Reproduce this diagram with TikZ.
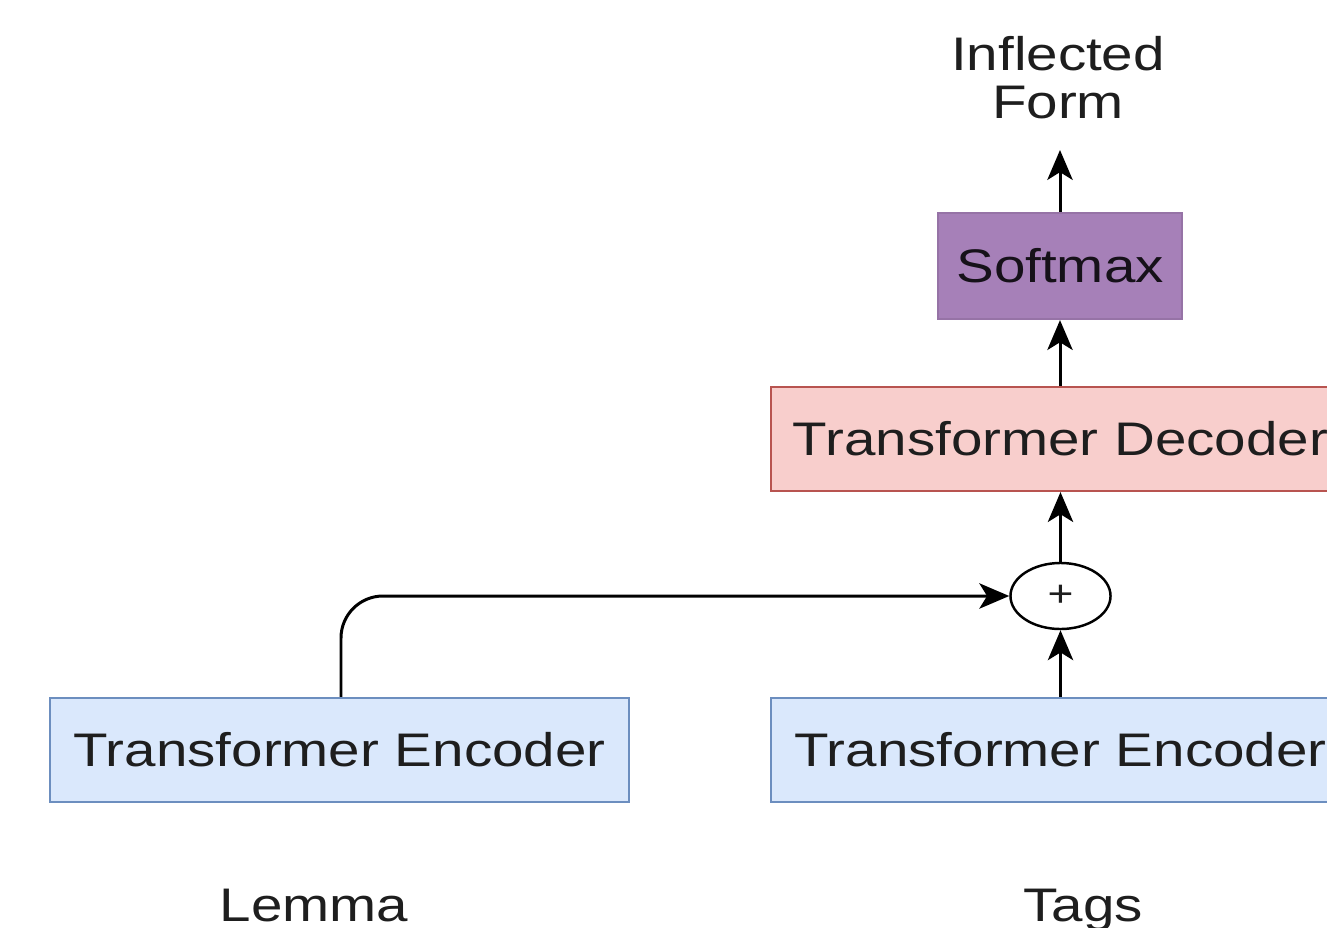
\documentclass[tikz,border=0pt]{standalone}
\usepackage{fontspec}
\setmainfont[FakeStretch=1.2]{Liberation Sans}
\usetikzlibrary{arrows.meta}
\usetikzlibrary{shapes.geometric}
\definecolor{encfill}{HTML}{DAE8FC}
\definecolor{encline}{HTML}{6C8EBF}
\definecolor{decfill}{HTML}{F8CECC}
\definecolor{decline}{HTML}{B85450}
\definecolor{smfill}{HTML}{A680B8}
\definecolor{smline}{HTML}{9673A6}
\definecolor{ink}{HTML}{1E1E1E}
\tikzset{
  lbl/.style={font=\fontsize{13.4}{13.7}\selectfont, text=ink},
  block/.style={lbl, draw, line width=0.6pt, minimum height=1.04cm, inner sep=0pt},
  encbox/.style={block, fill=encfill, draw=encline, minimum width=5.79cm},
  decbox/.style={block, fill=decfill, draw=decline, minimum width=5.79cm},
  smbox/.style={block, fill=smfill, draw=smline, minimum width=2.44cm, minimum height=1.06cm, text=black!85!smline},
  sumnode/.style={ellipse, draw, line width=0.7pt, minimum width=1.0cm, minimum height=0.66cm, inner sep=0pt, font=\fontsize{10.5}{11}\selectfont, text=ink},
  flow/.style={draw, line width=0.85pt, -{Stealth[length=8.5pt, width=7.2pt, inset=2.2pt]}}
}
\begin{document}
\begin{tikzpicture}[x=0.01cm, y=-0.01cm]
  \clip (0,0) rectangle (1327,927);
  \fill[white] (0,0) rectangle (1327,927);

  % input blocks
  \node[encbox] (lenc) at (339.5,750) {Transformer Encoder};
  \node[encbox] (renc) at (1060.5,750) {Transformer Encoder};

  % combination and decoding stack
  \node[sumnode] (plus) at (1060.5,596) {+};
  \node[decbox] (dec) at (1060.5,439) {Transformer Decoder};
  \node[smbox] (sm) at (1060,266) {Softmax};
  \coordinate (out) at (1060,150);

  % labels
  \node[lbl, align=center] (inf) at (1058,78) {Inflected\\Form};
  \node[lbl, anchor=base] (lemma) at (314,921) {Lemma};
  \node[lbl, anchor=base] (tags) at (1083,921) {Tags};

  % connectors
  \draw[flow, rounded corners=0.42cm] (lenc.north -| 341,0) |- (plus.west);
  \draw[flow] (renc.north -| plus) -- (plus.south);
  \draw[flow] (plus.north) -- (dec.south -| plus);
  \draw[flow] (dec.north -| sm) -- (sm.south);
  \draw[flow] (sm.north) -- (out);
\end{tikzpicture}
\end{document}
